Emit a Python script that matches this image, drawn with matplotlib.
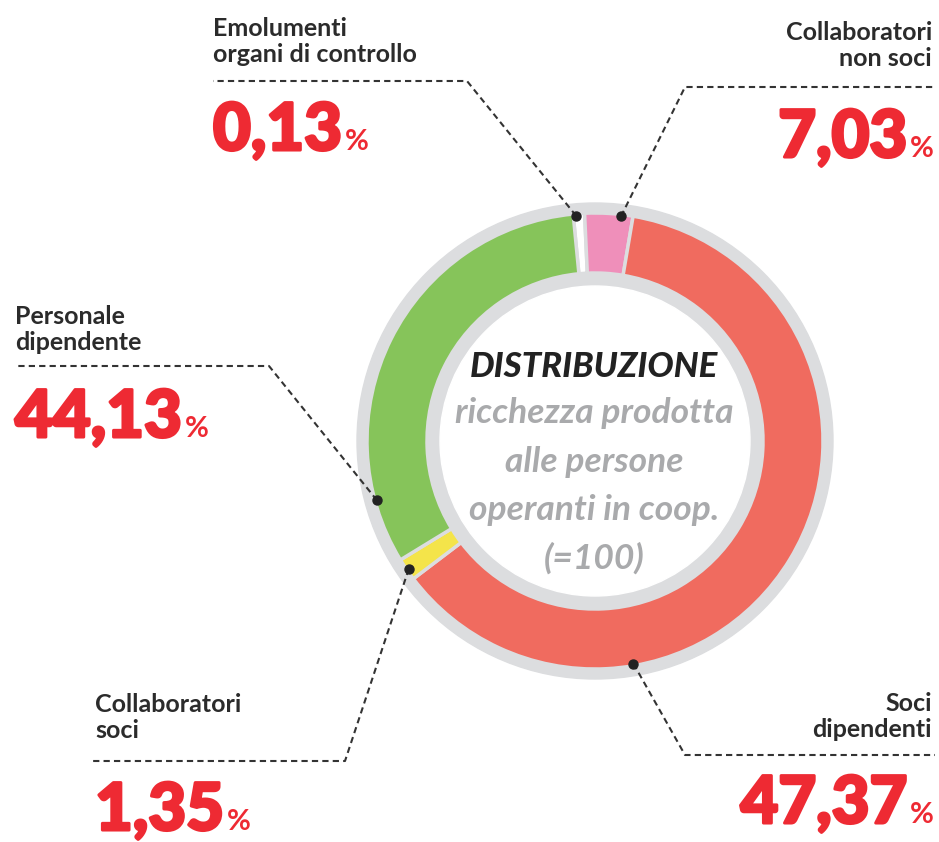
import matplotlib.pyplot as plt
import matplotlib.patheffects as pe
import numpy as np

# categories, clockwise from the top of the ring
labels = ['Emolumenti\norgani di controllo', 'Collaboratori\nnon soci', 'Soci\ndipendenti',
          'Collaboratori\nsoci', 'Personale\ndipendente']
values_txt = ['0,13', '7,03', '47,37', '1,35', '44,13']
# share of the ring as drawn in the picture (%)
arc_share = [0.8, 3.4, 62.0, 1.6, 32.2]
colors = ['#ffffff', '#ef8fba', '#f06b5f', '#f4e44a', '#86c45a']

W, H = 939, 842
def Y(y):
    return H - y

fig = plt.figure(figsize=(9.39, 8.42), dpi=100)
ax = fig.add_axes([0, 0, 1, 1])

cx, cy = 595, Y(441)
grey = '#dcdddf'

ax.add_patch(plt.Circle((cx, cy), 238, color=grey, zorder=0))
ax.pie(arc_share, colors=colors, startangle=95.5, counterclock=False, radius=228,
       center=(cx, cy), wedgeprops=dict(width=60, edgecolor=grey, linewidth=2.5))
ax.add_patch(plt.Circle((cx, cy), 155, color='white', zorder=5))

ax.set_xlim(0, W)
ax.set_ylim(0, H)
ax.set_aspect('equal')
ax.axis('off')

# ---- leader lines: dot angle on ring (clockwise from top), corner, end of horizontal
dot_angle = [-4.8, 6.6, 170.2, 235.5, 254.8]
corners = [(467, 81), (685, 87), (685, 755), (345, 761), (269, 366)]
line_end = [213, 935, 935, 93, 15]
for ang, (kx, ky), xe in zip(dot_angle, corners, line_end):
    a = np.radians(ang)
    dx, dy = cx + 226 * np.sin(a), cy + 226 * np.cos(a)
    ax.plot([dx, kx, xe], [dy, Y(ky), Y(ky)], color='#333333', lw=1.5,
            ls=(0, (3, 2)), zorder=8, solid_capstyle='butt')
    ax.plot(dx, dy, 'o', color='#222222', ms=6.5, zorder=9)

# ---- labels
txt_col = '#2b2b2b'
red = '#ee2a33'
heavy = [pe.withStroke(linewidth=2.2, foreground=red)]
lab_pos = [(213, 62, 'left'), (932, 66, 'right'), (932, 737, 'right'),
           (95, 738, 'left'), (15, 350, 'left')]
num_pos = [150, 157, 823, 830, 437]
for lab, val, (x, yb, ha), yn in zip(labels, values_txt, lab_pos, num_pos):
    ax.text(x, Y(yb), lab, ha=ha, va='baseline', fontsize=18, family='Lato',
            fontweight='bold', color=txt_col, linespacing=1.17)
    if ha == 'left':
        t = ax.text(x, Y(yn), val, ha='left', va='baseline', fontsize=47,
                    family='Lato', fontweight='black', color=red, path_effects=heavy)
        fig.canvas.draw()
        bb = t.get_window_extent()
        ax.text(bb.x1 + 3, Y(yn), '%', ha='left', va='baseline', fontsize=21,
                family='Lato', fontweight='bold', color=red)
    else:
        p = ax.text(x + 2, Y(yn), '%', ha='right', va='baseline', fontsize=21,
                    family='Lato', fontweight='bold', color=red)
        fig.canvas.draw()
        bb = p.get_window_extent()
        ax.text(bb.x0 - 3, Y(yn), val, ha='right', va='baseline', fontsize=47,
                family='Lato', fontweight='black', color=red, path_effects=heavy)

# ---- centre text
ax.text(594, Y(377), 'DISTRIBUZIONE', ha='center', va='baseline', fontsize=25,
        family='Lato', fontweight='black', style='italic', color='#222222', zorder=10)
centre_lines = ['ricchezza prodotta', 'alle persone', 'operanti in coop.', '(=100)']
for i, s in enumerate(centre_lines):
    ax.text(594, Y(423 + 48.5 * i), s, ha='center', va='baseline', fontsize=25.5,
            family='Lato', fontweight='bold', style='italic', color='#a9aaac', zorder=10)

plt.savefig('out.png', dpi=100)
